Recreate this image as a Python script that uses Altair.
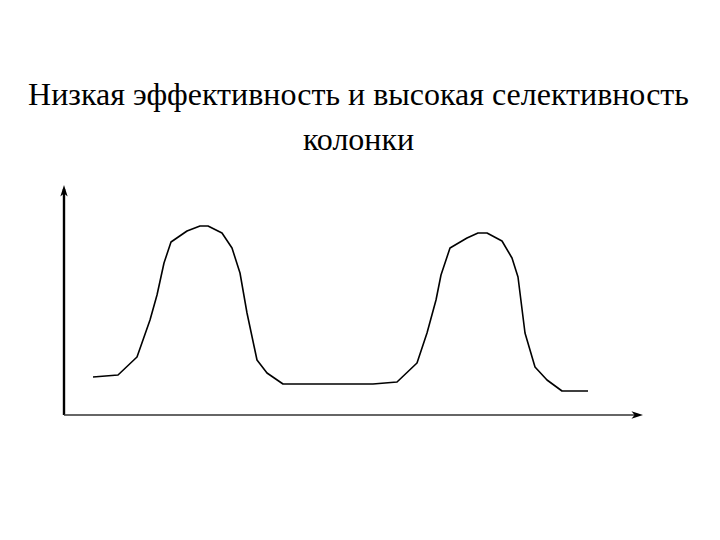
import altair as alt
import pandas as pd

title_lines = ["Низкая эффективность и высокая селективность", "колонки"]

curve_x = [29, 54, 73, 86, 93, 100, 107, 123, 136, 144, 158, 168, 176, 183, 193, 203, 219,
           309, 333, 353, 363, 372, 377, 386, 403, 414, 423, 438, 448, 454, 461, 471, 483, 498, 524]
curve_y = [38, 40, 58, 95, 120, 152, 173, 184, 189, 189, 182, 167, 142, 102, 55, 42, 31,
           31, 33, 52, 82, 115, 140, 167, 177, 182, 182, 174, 157, 138, 82, 48, 35, 24, 24]

x_max = 579
y_max = 230

curve = pd.DataFrame({"x": curve_x, "y": curve_y, "order": list(range(len(curve_x)))})


def X(field="x:Q"):
    return alt.X(field, scale=alt.Scale(domain=[0, x_max], nice=False, zero=True), axis=None)


def Y(field="y:Q"):
    return alt.Y(field, scale=alt.Scale(domain=[0, y_max], nice=False, zero=True), axis=None)


line = alt.Chart(curve).mark_line(color="black", strokeWidth=1.6, strokeJoin="round").encode(
    x=X(), y=Y(), order="order:Q"
)

yaxis = alt.Chart(pd.DataFrame({"x": [0], "y": [0], "y2": [y_max - 4]})).mark_rule(
    color="black", strokeWidth=2.4
).encode(x=X(), y=Y(), y2="y2:Q")

xaxis = alt.Chart(pd.DataFrame({"x": [0], "x2": [x_max - 4], "y": [0]})).mark_rule(
    color="#333333", strokeWidth=1.5
).encode(x=X(), x2="x2:Q", y=Y())

up_arrow = alt.Chart(pd.DataFrame({"x": [0], "y": [y_max]})).mark_point(
    shape="M0,0L-0.35,1.1L0,0.8L0.35,1.1Z", filled=True, color="black", opacity=1, size=440
).encode(x=X(), y=Y())

right_arrow = alt.Chart(pd.DataFrame({"x": [x_max], "y": [0]})).mark_point(
    shape="M0,0L-1.1,-0.35L-0.8,0L-1.1,0.35Z", filled=True, color="black", opacity=1, size=440
).encode(x=X(), y=Y())

chart = alt.layer(yaxis, xaxis, line, up_arrow, right_arrow).properties(
    width=x_max,
    height=y_max,
    autosize=alt.AutoSizeParams(type="none"),
    padding={"left": 56, "top": 177, "right": 69, "bottom": 117},
    title=alt.TitleParams(
        text=title_lines,
        font="Liberation Serif",
        fontSize=32,
        fontWeight="normal",
        color="black",
        lineHeight=45,
        anchor="middle",
        dx=5,
        offset=28,
    ),
).configure_view(strokeWidth=0)

chart.save("out.html", embed_options={"renderer": "svg", "actions": False})
